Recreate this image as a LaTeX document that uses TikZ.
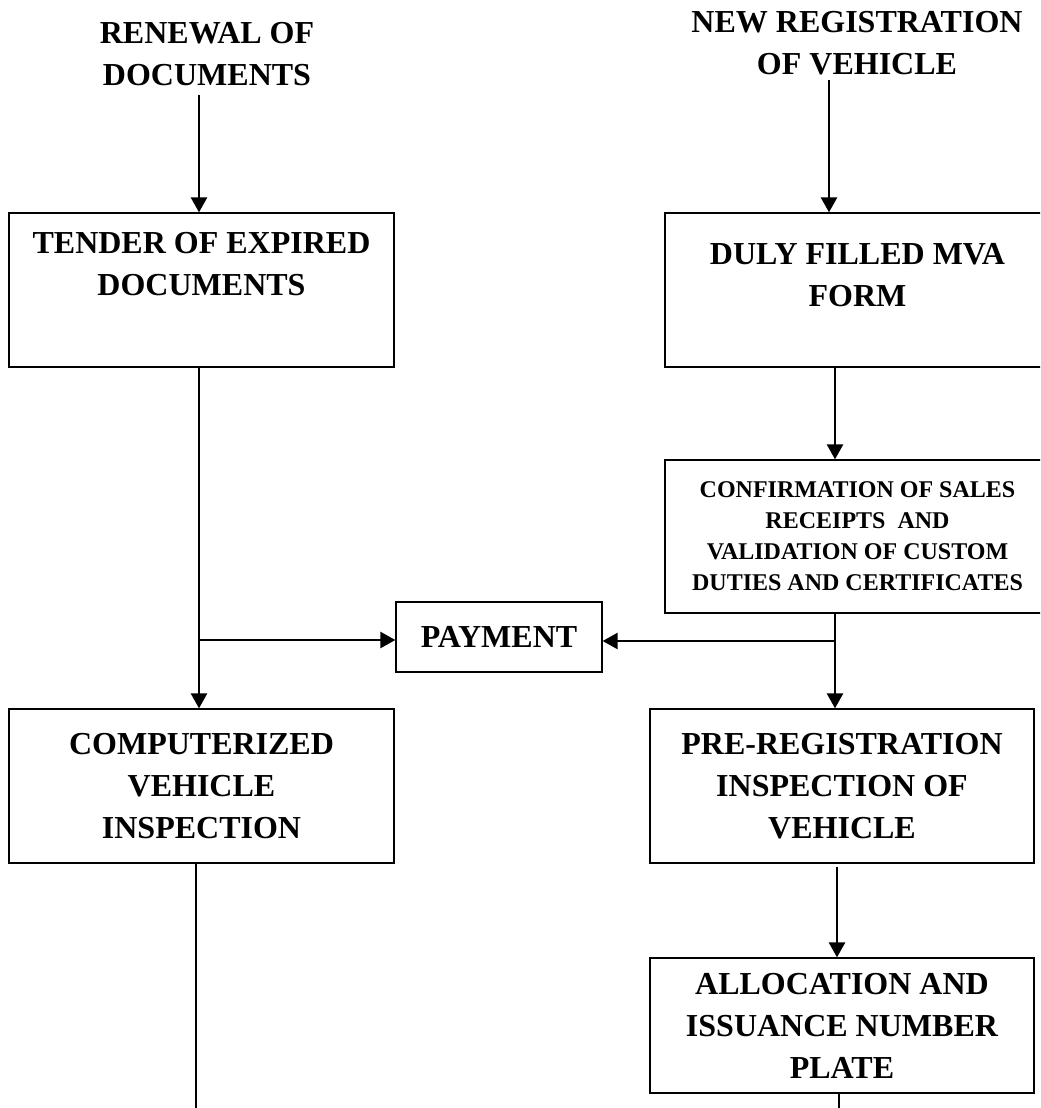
\documentclass[tikz,border=0pt]{standalone}
\usepackage{fontspec}
\setmainfont{Liberation Serif}
\usetikzlibrary{arrows.meta}
\newcommand{\flowfont}{\fontsize{16pt}{21pt}\selectfont\bfseries}
\newcommand{\confont}{\fontsize{12pt}{15.5pt}\selectfont\bfseries}
\tikzset{
    box/.style = {rectangle, draw=black, line width=0.65pt, align=center, inner sep=0pt, font=\flowfont},
    widebox/.style = {box, minimum width=192.5pt, minimum height=77pt},
    heading/.style = {align=center, inner xsep=0pt, font=\flowfont},
    flow/.style = {-{Triangle[length=7.5pt,width=8pt]}, line width=1.35pt},
    trunk/.style = {line width=1.35pt}
}

\begin{document}
\begin{tikzpicture}[x=0.5pt, y=-0.5pt]
\useasboundingbox (0,0) rectangle (1040,1108);
\clip (0,0) rectangle (1040,1108);
% left column
\node[heading, inner ysep=4pt] at (207, 54.5) (renewal) {RENEWAL OF\\DOCUMENTS};
\node[widebox] at (201.5, 290) (tender) {TENDER OF EXPIRED\\DOCUMENTS\\[5pt]\mbox{}};
\node[widebox] at (201.5, 786) (comp) {COMPUTERIZED\\VEHICLE\\INSPECTION};
\node[box, minimum width=103pt, minimum height=35pt] at (499, 637) (pay) {PAYMENT};
% right column
\node[heading, inner ysep=2pt] at (857, 43.5) (newreg) {NEW REGISTRATION\\OF VEHICLE};
\node[widebox] at (857.5, 290) (duly) {DULY FILLED MVA\\FORM\\[-6pt]\mbox{}};
\node[widebox, minimum height=76.5pt, font=\confont] at (857.5, 536.5) (conf)
    {CONFIRMATION OF SALES\\RECEIPTS\ \ AND\\VALIDATION OF CUSTOM\\DUTIES AND CERTIFICATES};
\node[widebox, minimum width=192pt] at (842, 786) (pre) {PRE-REGISTRATION\\INSPECTION OF\\VEHICLE};
\node[widebox, minimum width=192pt, minimum height=67.5pt] at (842, 1025.5) (alloc) {ALLOCATION AND\\ISSUANCE NUMBER\\PLATE};
%
\coordinate (ljoin) at (199, 640);
\coordinate (lend) at (196, 1108);
\coordinate (rhead) at (829, 79);
\coordinate (rjoin) at (835, 641);
\coordinate (rmid) at (837, 867);
\coordinate (rend) at (839, 1108);
%
\draw[flow] (renewal.south -| ljoin) -- (tender.north -| ljoin);
\draw[flow] (tender.south -| ljoin) -- (comp.north -| ljoin);
\draw[flow] (ljoin) -- (pay.west |- ljoin);
\draw[trunk] (comp.south -| lend) -- (lend);
\draw[flow] (newreg.south -| rhead) -- (duly.north -| rhead);
\draw[flow] (duly.south -| rjoin) -- (conf.north -| rjoin);
\draw[flow] (conf.south -| rjoin) -- (pre.north -| rjoin);
\draw[flow] (rjoin) -- (pay.east |- rjoin);
\draw[flow] (rmid) -- (alloc.north -| rmid);
\draw[trunk] (alloc.south -| rend) -- (rend);
\end{tikzpicture}
\end{document}
